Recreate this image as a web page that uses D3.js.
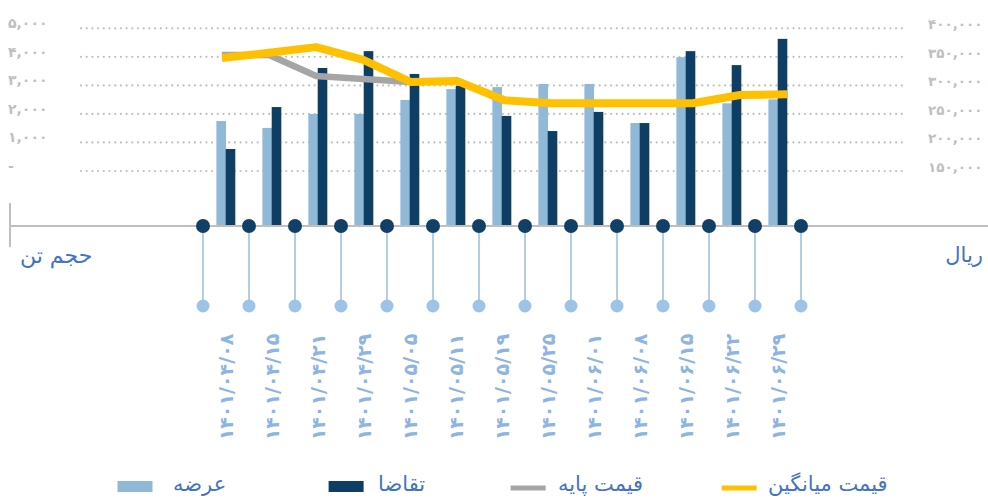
<!DOCTYPE html>
<html><head><meta charset="utf-8">
<script src="https://cdn.jsdelivr.net/npm/d3@7"></script>
<style>
html,body{margin:0;padding:0;background:#fff;}
svg{display:block;font-family:"DejaVu Sans",sans-serif;}
</style></head>
<body><svg id="chart" width="988" height="498"></svg>
<script>
// ---- data ----
const dates = ["1401/04/08","1401/04/15","1401/04/21","1401/04/29","1401/05/05","1401/05/11","1401/05/19","1401/05/25","1401/06/01","1401/06/08","1401/06/15","1401/06/22","1401/06/29"];
const supply = [1750,1510,2000,2000,2490,2870,2940,3050,3050,1680,3990,2370,2510];   // عرضه
const demand = [770,2240,3610,4200,3400,2980,1930,1400,2070,1680,4200,3710,4630];    // تقاضا
const basePrice = [353200,353200,316400,311200,306000,307500,274000,268600,268600,268600,268600,283100,284400]; // قیمت پایه
const avgPrice = [348000,357000,367000,344500,306000,307500,274000,268600,268600,268600,268600,283100,284400];  // قیمت میانگین
const leftTicks = [0,1000,2000,3000,4000,5000];
const rightTicks = [150000,200000,250000,300000,350000,400000];
const seriesNames = ["عرضه","تقاضا","قیمت پایه","قیمت میانگین"];
const leftTitle = "حجم تن";
const rightTitle = "ریال";

// ---- helpers ----
const faDigits = "۰۱۲۳۴۵۶۷۸۹";
const fa = s => String(s).replace(/\d/g, d => faDigits[+d]);
const fmt = d3.format(",");

const svg = d3.select("#chart");
const C = {light:"#8FB9D6", dark:"#0F3E64", gray:"#A5A5A5", yellow:"#FFC000",
           grid:"#BFBFBF", tick:"#BFBFBF", title:"#4472C4", stem:"#9DC3E6", date:"#8DB4E2"};

const baseline = 226;
const x = d3.scaleBand().domain(dates).range([203, 801]).padding(0);
const xl = d3.scalePoint().domain(dates).range([222, 787]);
const yL = d3.scaleLinear().domain([0, 5000]).range([171, 28.3]);
const yR = d3.scaleLinear().domain([150000, 400000]).range([171, 28.3]);

// gridlines
svg.append("g").selectAll("line").data(leftTicks).join("line")
  .attr("x1", 81).attr("x2", 905)
  .attr("y1", d => yL(d)).attr("y2", d => yL(d))
  .attr("stroke", C.grid).attr("stroke-width", 2.2)
  .attr("stroke-dasharray", "0,5.7").attr("stroke-linecap", "round");

// left tick labels
svg.append("g").selectAll("text").data(leftTicks).join("text")
  .attr("x", 8).attr("y", d => yL(d) - 5)
  .attr("dominant-baseline", "central")
  .attr("fill", C.tick).attr("font-size", 14).attr("font-weight", "bold")
  .text(d => d === 0 ? "-" : fa(fmt(d)));

// right tick labels
svg.append("g").selectAll("text").data(rightTicks).join("text")
  .attr("x", 928).attr("y", d => yR(d) - 4)
  .attr("dominant-baseline", "central")
  .attr("fill", C.tick).attr("font-size", 13.5).attr("font-weight", "bold")
  .text(d => fa(fmt(d)));

// bars
const bw = x.bandwidth() * 0.209;
const gBars = svg.append("g");
gBars.selectAll("rect.s").data(dates).join("rect").attr("class","s")
  .attr("x", (d) => x(d) + x.bandwidth()/2 - bw)
  .attr("width", bw)
  .attr("y", (d,i) => yL(supply[i]))
  .attr("height", (d,i) => baseline - yL(supply[i]))
  .attr("fill", C.light);
gBars.selectAll("rect.d").data(dates).join("rect").attr("class","d")
  .attr("x", (d) => x(d) + x.bandwidth()/2 - 0.3)
  .attr("width", bw)
  .attr("y", (d,i) => yL(demand[i]))
  .attr("height", (d,i) => baseline - yL(demand[i]))
  .attr("fill", C.dark);

// price lines
const line = d3.line().x((d,i) => xl(dates[i])).y(d => yR(d));
svg.append("path").datum(basePrice).attr("d", line)
  .attr("fill","none").attr("stroke", C.gray).attr("stroke-width", 6.5).attr("stroke-linejoin","round");
svg.append("path").datum(avgPrice).attr("d", line)
  .attr("fill","none").attr("stroke", C.yellow).attr("stroke-width", 8).attr("stroke-linejoin","round");

// axis lines
svg.append("line").attr("x1", 10).attr("x2", 988).attr("y1", baseline).attr("y2", baseline)
  .attr("stroke", C.grid).attr("stroke-width", 2);
svg.append("line").attr("x1", 10).attr("x2", 10).attr("y1", 203).attr("y2", 247)
  .attr("stroke", C.grid).attr("stroke-width", 2);

// timeline stems and circles at band edges
const edges = dates.map(d => x(d)).concat([x.range()[1]]);
const gT = svg.append("g");
gT.selectAll("line").data(edges).join("line")
  .attr("x1", d => d).attr("x2", d => d).attr("y1", baseline).attr("y2", 306)
  .attr("stroke", C.stem).attr("stroke-width", 1.6);
gT.selectAll("circle.l").data(edges).join("circle").attr("class","l")
  .attr("cx", d => d).attr("cy", 306).attr("r", 6.5).attr("fill", C.stem);
gT.selectAll("circle.dk").data(edges).join("circle").attr("class","dk")
  .attr("cx", d => d).attr("cy", baseline).attr("r", 7).attr("fill", "#123F66");

// date labels
svg.append("g").selectAll("text").data(dates).join("text")
  .attr("transform", d => `translate(${x(d) + x.bandwidth()/2},387) rotate(-90)`)
  .attr("text-anchor", "middle").attr("dominant-baseline", "central")
  .attr("fill", C.date).attr("font-size", 19).attr("font-weight", "bold")
  .text(d => fa(d));

// axis titles
svg.append("text").attr("x", 20).attr("y", 255).attr("dominant-baseline","central")
  .attr("fill", C.title).attr("font-size", 22).text(leftTitle);
svg.append("text").attr("x", 983).attr("y", 255).attr("dominant-baseline","central")
  .attr("text-anchor","end").attr("fill", C.title).attr("font-size", 21).text(rightTitle);

// legend
const legend = [
  {name: seriesNames[0], type:"rect", color:C.light, sx:117.5, tx:173},
  {name: seriesNames[1], type:"rect", color:C.dark, sx:328.6, tx:378},
  {name: seriesNames[2], type:"line", color:C.gray, sx:510.6, tx:558},
  {name: seriesNames[3], type:"line", color:C.yellow, sx:721.7, tx:768}
];
const gl = svg.append("g");
legend.forEach(it => {
  if (it.type === "rect") {
    gl.append("rect").attr("x", it.sx).attr("y", 481).attr("width", 35).attr("height", 11).attr("fill", it.color);
  } else {
    gl.append("line").attr("x1", it.sx).attr("x2", it.sx + 35).attr("y1", 488).attr("y2", 488)
      .attr("stroke", it.color).attr("stroke-width", 5);
  }
  gl.append("text").attr("x", it.tx).attr("y", 484).attr("dominant-baseline","central")
    .attr("fill", C.title).attr("font-size", 21).text(it.name);
});
</script></body></html>
